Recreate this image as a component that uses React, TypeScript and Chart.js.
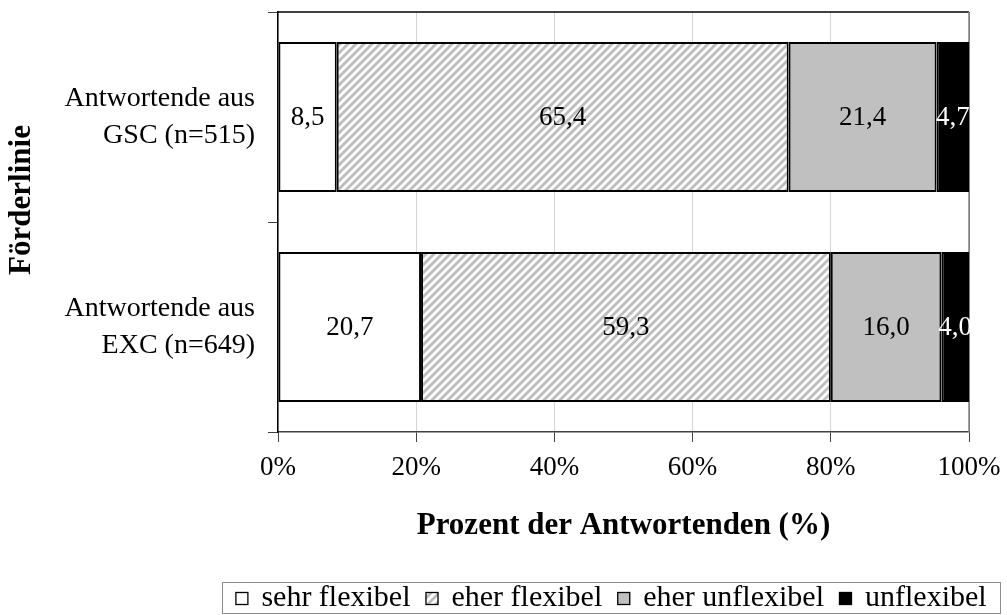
import React, { useEffect, useRef } from "react";
import { Chart, registerables } from "chart.js";

Chart.register(...registerables);

const categories = [
  ["Antwortende aus", "GSC (n=515)"],
  ["Antwortende aus", "EXC (n=649)"],
];
const seriesNames = ["sehr flexibel", "eher flexibel", "eher unflexibel", "unflexibel"];
const sehrFlexibel = [8.5, 20.7];
const eherFlexibel = [65.4, 59.3];
const eherUnflexibel = [21.4, 16.0];
const unflexibel = [4.7, 4.0];
const xTicks = [0, 20, 40, 60, 80, 100];
const xTitle = "Prozent der Antwortenden (%)";
const yTitle = "Förderlinie";

const FONT = '"Liberation Serif", "Times New Roman", serif';

function makeHatch(): CanvasPattern | string {
  const c = document.createElement("canvas");
  c.width = 8;
  c.height = 8;
  const g = c.getContext("2d");
  if (!g) return "#ddd";
  g.fillStyle = "#ffffff";
  g.fillRect(0, 0, 8, 8);
  g.strokeStyle = "#bcbcbc";
  g.lineWidth = 2.8;
  g.beginPath();
  g.moveTo(-2, 10);
  g.lineTo(10, -2);
  g.moveTo(-2, 2);
  g.lineTo(2, -2);
  g.moveTo(6, 10);
  g.lineTo(10, 6);
  g.stroke();
  return g.createPattern(c, "repeat") || "#ddd";
}

const framePlugin = {
  id: "frame",
  beforeDatasetsDraw(chart: any) {
    const { ctx, chartArea } = chart;
    ctx.save();
    ctx.lineWidth = 1.5;
    ctx.strokeStyle = "#000";
    ctx.beginPath();
    ctx.moveTo(chartArea.left, chartArea.top);
    ctx.lineTo(chartArea.right, chartArea.top);
    ctx.stroke();
    ctx.strokeStyle = "#808080";
    ctx.beginPath();
    ctx.moveTo(chartArea.right, chartArea.top);
    ctx.lineTo(chartArea.right, chartArea.bottom);
    ctx.stroke();
    ctx.restore();
  },
};

const yTitlePlugin = {
  id: "yTitle",
  afterDraw(chart: any) {
    const { ctx } = chart;
    ctx.save();
    ctx.font = `bold 31px ${FONT}`;
    ctx.fillStyle = "#000";
    ctx.textAlign = "center";
    ctx.textBaseline = "middle";
    ctx.translate(22, 200);
    ctx.rotate(-Math.PI / 2);
    ctx.fillText(yTitle, 0, 0);
    ctx.restore();
  },
};

const valueLabelPlugin = {
  id: "valueLabels",
  afterDatasetsDraw(chart: any) {
    const { ctx } = chart;
    ctx.save();
    ctx.font = `27px ${FONT}`;
    ctx.textAlign = "center";
    ctx.textBaseline = "middle";
    chart.data.datasets.forEach((ds: any, di: number) => {
      const meta = chart.getDatasetMeta(di);
      meta.data.forEach((el: any, i: number) => {
        const v = ds.data[i] as number;
        const x = (el.x + el.base) / 2;
        ctx.fillStyle = di === 3 ? "#ffffff" : "#000000";
        ctx.fillText(v.toFixed(1).replace(".", ","), x, el.y + 1);
      });
    });
    ctx.restore();
  },
};

const boxLegendPlugin = {
  id: "boxLegend",
  afterDraw(chart: any) {
    const { ctx } = chart;
    const ds = chart.data.datasets;
    ctx.save();
    ctx.font = `30px ${FONT}`;
    const box = 13;
    const gapText = 13;
    const gapItem = 15;
    const widths = ds.map((d: any) => ctx.measureText(d.label).width);
    let total = 0;
    widths.forEach((w: number, i: number) => {
      total += box + gapText + w + (i < ds.length - 1 ? gapItem : 0);
    });
    const frame = { left: 222, right: 1000, top: 582, bottom: 613 };
    ctx.strokeStyle = "#8c8c8c";
    ctx.lineWidth = 1;
    ctx.strokeRect(frame.left + 0.5, frame.top + 0.5, frame.right - frame.left, frame.bottom - frame.top);
    let x = (frame.left + frame.right) / 2 - total / 2;
    const cy = (frame.top + frame.bottom) / 2 + 1;
    ds.forEach((d: any, i: number) => {
      ctx.fillStyle = d.backgroundColor;
      ctx.fillRect(x, cy - box / 2, box, box);
      ctx.strokeStyle = "#000";
      ctx.lineWidth = 1.3;
      ctx.strokeRect(x + 0.5, cy - box / 2 + 0.5, box - 1, box - 1);
      x += box + gapText;
      ctx.fillStyle = "#000";
      ctx.textAlign = "left";
      ctx.textBaseline = "middle";
      ctx.fillText(d.label, x, cy);
      x += widths[i] + gapItem;
    });
    ctx.restore();
  },
};

export default function App() {
  const canvasRef = useRef<HTMLCanvasElement | null>(null);

  useEffect(() => {
    if (!canvasRef.current) return;
    Chart.defaults.font.family = FONT;
    const hatch = makeHatch();
    const colors = ["#ffffff", hatch, "#c0c0c0", "#000000"];
    const values = [sehrFlexibel, eherFlexibel, eherUnflexibel, unflexibel];
    const chart = new Chart(canvasRef.current, {
      type: "bar",
      data: {
        labels: categories,
        datasets: seriesNames.map((name, i) => ({
          label: name,
          data: values[i],
          backgroundColor: colors[i] as any,
          borderColor: "#000000",
          borderWidth: 2,
          borderSkipped: false,
          barPercentage: 0.714,
          categoryPercentage: 1,
        })),
      },
      options: {
        indexAxis: "y",
        animation: false,
        responsive: true,
        maintainAspectRatio: false,
        layout: { padding: { left: 0, right: 38, top: 12, bottom: 70 } },
        plugins: {
          legend: { display: false },
          tooltip: { enabled: false },
        },
        scales: {
          x: {
            type: "linear",
            stacked: true,
            min: 0,
            max: 100,
            afterBuildTicks: (s: any) => {
              s.ticks = xTicks.map((v) => ({ value: v }));
            },
            afterFit: (s: any) => {
              s.height = 113;
              s.paddingLeft = 0;
              s.paddingRight = 0;
            },
            ticks: {
              color: "#000",
              font: { size: 27, family: FONT },
              padding: 10,
              callback: (v: any) => `${v}%`,
            },
            grid: {
              color: (c: any) => (c.tick && c.tick.value === 100 ? "#808080" : "#d4d4d4"),
              tickColor: "#404040",
              tickLength: 10,
              lineWidth: 1,
            },
            border: { color: "#404040", width: 1.5 },
            title: {
              display: true,
              text: xTitle,
              color: "#000",
              font: { size: 31, weight: "bold", family: FONT },
              padding: { top: 0, bottom: 0 },
            },
          },
          y: {
            type: "category",
            stacked: true,
            afterFit: (s: any) => {
              s.width = 278;
              s.paddingTop = 0;
              s.paddingBottom = 0;
            },
            ticks: {
              color: "#000",
              font: { size: 28, family: FONT, lineHeight: 1.3 },
              padding: 13,
            },
            grid: {
              drawOnChartArea: false,
              drawTicks: true,
              tickLength: 10,
              color: "#404040",
              offset: true,
            },
            border: { color: "#000", width: 1.5 },
            title: { display: false },
          },
        },
      },
      plugins: [framePlugin, valueLabelPlugin, boxLegendPlugin, yTitlePlugin],
    });
    return () => chart.destroy();
  }, []);

  return (
    <div style={{ position: "fixed", left: 0, top: 0, width: 1007, height: 615, background: "#fff" }}>
      <canvas ref={canvasRef} />
    </div>
  );
}
